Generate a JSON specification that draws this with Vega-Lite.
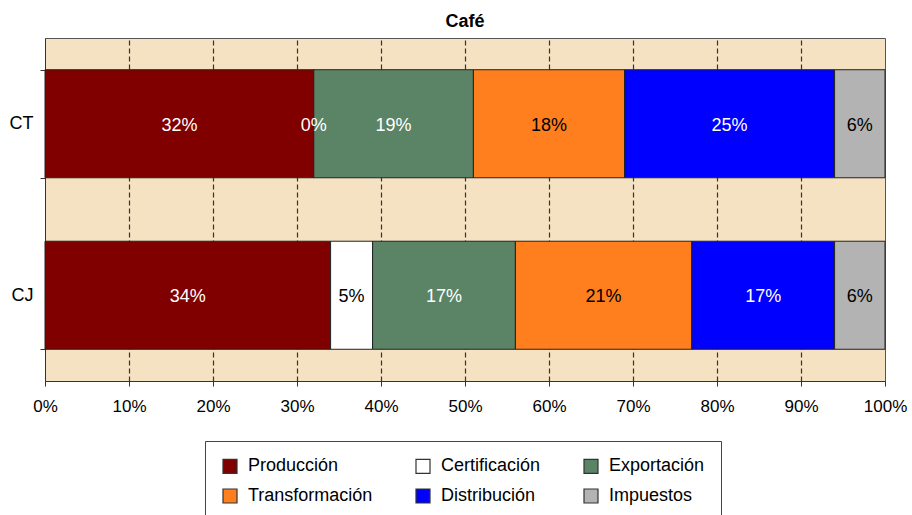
{
  "$schema": "https://vega.github.io/schema/vega-lite/v6.json",
  "autosize": {"type": "none"},
  "padding": {"left": 45, "top": 38, "right": 27, "bottom": 134},
  "width": 840,
  "height": 343,
  "title": {"text": "Café", "fontSize": 18, "fontWeight": "bold", "color": "#000", "offset": -2},
  "config": {
    "font": "Liberation Sans",
    "view": {"stroke": "#555", "fill": "#F5E2C3", "strokeWidth": 1},
    "axis": {"labelColor": "#000", "labelFontSize": 17, "domainColor": "#333", "tickColor": "#333", "tickSize": 5, "title": null}
  },
  "data": {
    "values": [
      {"cadena": "CT", "etapa": "Producción", "valor": 32},
      {"cadena": "CT", "etapa": "Certificación", "valor": 0},
      {"cadena": "CT", "etapa": "Exportación", "valor": 19},
      {"cadena": "CT", "etapa": "Transformación", "valor": 18},
      {"cadena": "CT", "etapa": "Distribución", "valor": 25},
      {"cadena": "CT", "etapa": "Impuestos", "valor": 6},
      {"cadena": "CJ", "etapa": "Producción", "valor": 34},
      {"cadena": "CJ", "etapa": "Certificación", "valor": 5},
      {"cadena": "CJ", "etapa": "Exportación", "valor": 17},
      {"cadena": "CJ", "etapa": "Transformación", "valor": 21},
      {"cadena": "CJ", "etapa": "Distribución", "valor": 17},
      {"cadena": "CJ", "etapa": "Impuestos", "valor": 6}
    ]
  },
  "transform": [
    {"calculate": "indexof(['Producción','Certificación','Exportación','Transformación','Distribución','Impuestos'], datum.etapa)", "as": "orden"},
    {"stack": "valor", "groupby": ["cadena"], "sort": [{"field": "orden", "order": "ascending"}], "as": ["inicio", "fin"]},
    {"calculate": "(datum.inicio + datum.fin) / 2", "as": "centro"},
    {"calculate": "datum.valor + '%'", "as": "etiqueta"}
  ],
  "encoding": {
    "y": {
      "field": "cadena",
      "type": "nominal",
      "sort": ["CT", "CJ"],
      "scale": {"paddingInner": 0.37, "paddingOuter": 0.185},
      "axis": {"tickBand": "extent", "labelPadding": 7, "labelFontSize": 18, "grid": false}
    }
  },
  "layer": [
    {
      "mark": {"type": "bar", "stroke": "#222", "strokeWidth": 1},
      "encoding": {
        "x": {
          "field": "inicio",
          "type": "quantitative",
          "scale": {"domain": [0, 100], "nice": false},
          "axis": {
            "values": [0, 10, 20, 30, 40, 50, 60, 70, 80, 90, 100],
            "labelExpr": "datum.value + '%'",
            "labelFlush": false,
            "labelPadding": 12,
            "grid": true,
            "gridColor": "#333",
            "gridDash": [5, 3],
            "gridWidth": 1.2,
            "gridOpacity": {"condition": {"test": "datum.value == 0 || datum.value == 100", "value": 0}, "value": 1}
          }
        },
        "x2": {"field": "fin"},
        "color": {
          "field": "etapa",
          "type": "nominal",
          "scale": {
            "domain": ["Producción", "Certificación", "Exportación", "Transformación", "Distribución", "Impuestos"],
            "range": ["#800000", "#FFFFFF", "#5B8466", "#FF7F1E", "#0000FF", "#B3B3B3"]
          },
          "legend": {
            "title": null,
            "orient": "none",
            "direction": "horizontal",
            "legendX": 160,
            "legendY": 403,
            "columns": 3,
            "columnPadding": 40,
            "rowPadding": 10,
            "padding": 16,
            "strokeColor": "#444",
            "fillColor": "#FFFFFF",
            "symbolType": "square",
            "symbolSize": 196,
            "symbolStrokeColor": "#333",
            "symbolStrokeWidth": 1.2,
            "symbolOpacity": 1,
            "labelFontSize": 18,
            "labelColor": "#000",
            "labelOffset": 9
          }
        }
      }
    },
    {
      "mark": {"type": "text", "fontSize": 18, "align": "center", "baseline": "middle", "dy": 2},
      "encoding": {
        "x": {"field": "centro", "type": "quantitative"},
        "text": {"field": "etiqueta", "type": "nominal"},
        "color": {
          "condition": {"test": "indexof(['Producción','Exportación','Distribución'], datum.etapa) >= 0 || datum.valor == 0", "value": "#FFFFFF"},
          "value": "#000000"
        }
      }
    }
  ]
}
